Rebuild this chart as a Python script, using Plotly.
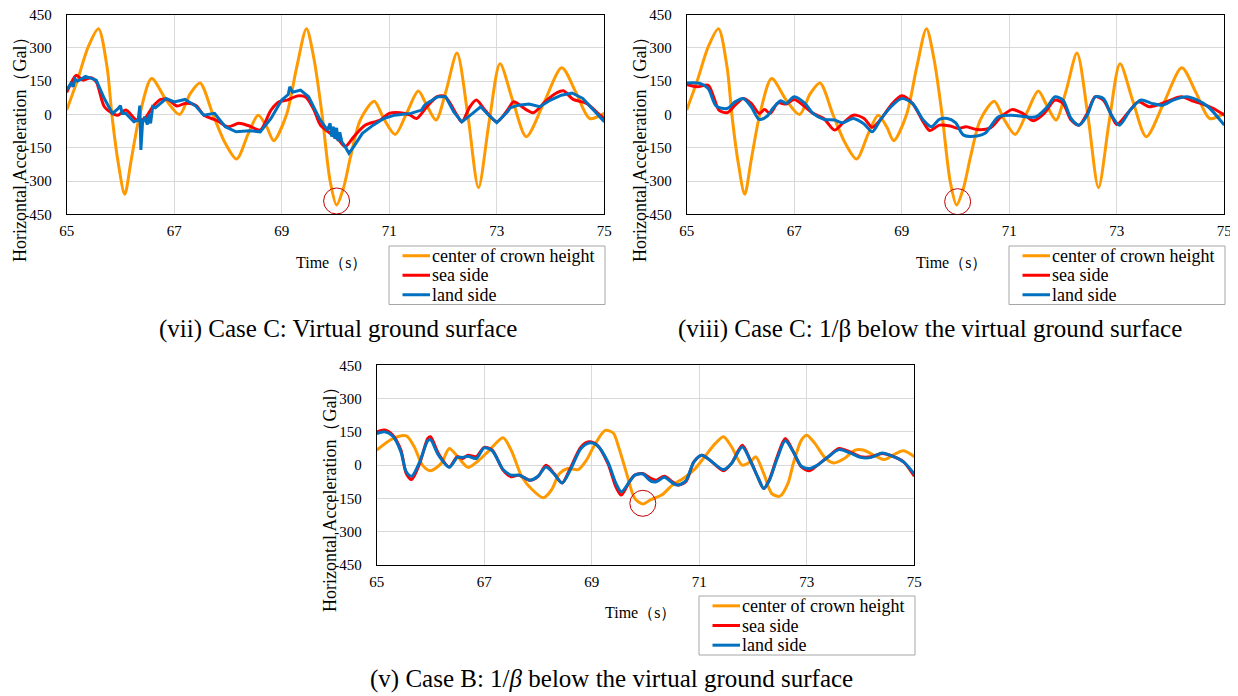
import plotly.graph_objects as go

W, H = 1238, 696
OFF = 8  # page body margin in the browser

# ---------------- data ----------------
# center of crown height, Case C (same in vii and viii)
t_crown_c = [65.0, 65.2, 65.4, 65.59, 65.75, 65.84, 65.95, 66.08, 66.2, 66.36, 66.58, 66.85, 67.1, 67.3,
             67.48, 67.72, 67.95, 68.16, 68.38, 68.56, 68.72, 68.85, 69.09, 69.28, 69.46, 69.6, 69.75,
             69.9, 70.02, 70.15, 70.28, 70.46, 70.72, 70.9, 71.11, 71.33, 71.54, 71.7, 71.87, 72.06,
             72.26, 72.46, 72.66, 72.86, 73.06, 73.3, 73.55, 73.88, 74.21, 74.47, 74.73, 75.0]
v_crown_c = [20, 155, 305, 387, 215, 0, -205, -360, -205, 0, 162, 65, 0, 95,
             142, 0, -130, -201, -85, -3, -55, -118, 0, 215, 387, 250, 0,
             -300, -408, -330, -190, -25, 60, -20, -90, 10, 106, 40, -25, 110,
             277, 0, -330, -30, 229, 60, -100, 55, 211, 100, -18, 5]

# (vii) sea side
t_sea_7 = [65.0, 65.1, 65.18, 65.3, 65.45, 65.55, 65.7, 65.85, 65.95, 66.1, 66.3, 66.45, 66.6, 66.75,
           66.9, 67.05, 67.2, 67.4, 67.55, 67.8, 68.0, 68.2, 68.4, 68.6, 68.8, 68.95, 69.1, 69.3,
           69.45, 69.6, 69.72, 69.9, 70.06, 70.18, 70.34, 70.55, 70.83, 71.0, 71.2, 71.39, 71.51,
           71.7, 71.89, 72.04, 72.26, 72.35, 72.5, 72.62, 72.78, 73.0, 73.22, 73.31, 73.56, 73.68,
           73.93, 74.11, 74.24, 74.42, 74.67, 74.92, 75.0]
v_sea_7 = [100, 150, 177, 155, 166, 147, 35, 5, -3, 20, -25, -18, 35, 68,
           65, 38, 50, 42, -3, -28, -55, -40, -52, -70, 20, 57, 65, 84,
           78, 20, -48, -85, -115, -145, -100, -48, -25, 5, 8, -3, -18,
           35, 80, 80, -3, -33, 35, 65, 20, -33, 27, 57, 20, 8,
           65, 97, 107, 68, 50, -3, -18]

# (vii) land side
t_land_7 = [65.0, 65.08, 65.12, 65.15, 65.2, 65.35, 65.55, 65.7, 65.85, 65.95, 66.0, 66.03, 66.1,
            66.25, 66.33, 66.36, 66.38, 66.41, 66.45, 66.5, 66.53, 66.56, 66.6, 66.65, 66.85, 67.0,
            67.2, 67.4, 67.55, 67.75, 67.95, 68.15, 68.4, 68.6, 68.8, 69.0, 69.12, 69.15, 69.2,
            69.35, 69.5, 69.7, 69.85, 69.9, 69.93, 69.96, 69.99, 70.02, 70.05, 70.08, 70.12,
            70.18, 70.25, 70.34, 70.5, 70.7, 70.9, 71.1, 71.4, 71.6, 71.65, 71.7, 71.9, 72.05,
            72.2, 72.35, 72.55, 72.7, 72.85, 73.0, 73.2, 73.25, 73.4, 73.6, 73.8, 74.0, 74.2,
            74.4, 74.6, 74.8, 75.0]
v_land_7 = [112, 140, 125, 160, 150, 172, 155, 72, 5, 25, 40, 5, 5,
            -33, -25, 40, -160, -40, -10, -45, 0, -40, 35, 30, 72, 57,
            68, 38, -3, 5, -55, -78, -73, -78, -18, 65, 90, 125, 100,
            110, 80, -18, -70, -40, -100, -55, -110, -60, -120, -80, -125,
            -145, -175, -145, -85, -48, -18, -3, 5, 20, 40, 50, 80, 80,
            12, -33, 5, 35, -3, -37, 12, 30, 42, 47, 35, 65, 87,
            97, 72, 20, -33]

# (viii) sea side
t_sea_8 = [65.0, 65.2, 65.4, 65.5, 65.6, 65.75, 65.9, 66.05, 66.2, 66.35, 66.45, 66.55, 66.7, 66.85,
           67.0, 67.2, 67.35, 67.55, 67.75, 67.9, 68.1, 68.3, 68.45, 68.6, 68.8, 69.0, 69.2, 69.4,
           69.52, 69.7, 69.9, 70.05, 70.2, 70.4, 70.65, 70.85, 71.05, 71.25, 71.45, 71.65, 71.85,
           72.0, 72.15, 72.3, 72.45, 72.6, 72.75, 72.9, 73.0, 73.2, 73.4, 73.6, 73.8, 74.0, 74.2,
           74.4, 74.6, 74.8, 75.0]
v_sea_8 = [135, 125, 132, 80, 20, 8, 42, 72, 50, 5, 22, 5, 52, 47,
           68, 35, 5, -18, -70, -40, -3, -18, -58, -25, 42, 84, 50, -33,
           -72, -48, -52, -63, -55, -68, -60, -10, 22, 5, -28, 5, 65,
           50, -25, -48, 5, 80, 65, -3, -45, 5, 57, 35, 47, 65, 80,
           62, 47, 27, -3]

# (viii) land side
t_land_8 = [65.0, 65.25, 65.4, 65.55, 65.75, 65.9, 66.05, 66.2, 66.35, 66.5, 66.6, 66.75, 66.85,
            67.0, 67.2, 67.35, 67.55, 67.75, 67.9, 68.1, 68.3, 68.45, 68.6, 68.8, 69.0, 69.2,
            69.4, 69.55, 69.7, 69.85, 70.0, 70.15, 70.4, 70.55, 70.8, 71.05, 71.3, 71.5, 71.7,
            71.85, 72.0, 72.15, 72.3, 72.45, 72.6, 72.75, 72.9, 73.05, 73.25, 73.45, 73.65,
            73.85, 74.05, 74.3, 74.5, 74.7, 75.0]
v_land_8 = [142, 140, 117, 38, 27, 57, 72, 35, -22, -7, 27, 62, 50,
            80, 50, 5, -22, -25, -37, -18, -43, -78, -25, 35, 72, 50,
            -25, -55, -22, -18, -37, -93, -97, -85, -10, -3, -10, -10, 32,
            80, 65, -18, -48, -3, 80, 72, -3, -48, 20, 65, 50,
            42, 65, 80, 65, 35, -48]

# (v) center of crown height, Case B
t_crown_b = [65.0, 65.3, 65.55, 65.7, 65.85, 66.0, 66.2, 66.35, 66.5, 66.7, 66.9, 67.1, 67.35, 67.5,
             67.7, 67.9, 68.1, 68.25, 68.4, 68.55, 68.75, 68.9, 69.05, 69.25, 69.4, 69.5, 69.65,
             69.8, 69.95, 70.1, 70.3, 70.5, 70.7, 70.9, 71.1, 71.3, 71.45, 71.6, 71.8, 71.95,
             72.05, 72.2, 72.35, 72.5, 72.65, 72.75, 72.9, 73.0, 73.15, 73.35, 73.5, 73.7, 73.9,
             74.05, 74.3, 74.45, 74.6, 74.8, 75.0]
v_crown_b = [68, 120, 132, 82, 0, -25, 8, 75, 40, -10, 22, 68, 123, 68,
             -52, -112, -147, -112, -38, -15, -20, 22, 90, 157, 145, 82, -38,
             -150, -175, -155, -135, -90, -60, -22, 38, 98, 128, 83, 0, 15,
             38, -38, -128, -140, -82, 8, 113, 135, 98, 30, 10, 30, 68,
             68, 38, 25, 45, 65, 38]

# (v) sea side
t_sea_5 = [65.0, 65.15, 65.3, 65.45, 65.55, 65.65, 65.8, 65.95, 66.0, 66.15, 66.35, 66.5, 66.6, 66.7,
           66.85, 67.0, 67.15, 67.35, 67.5, 67.65, 67.85, 68.0, 68.15, 68.3, 68.45, 68.6, 68.8,
           68.95, 69.1, 69.3, 69.45, 69.55, 69.7, 69.8, 69.95, 70.1, 70.2, 70.35, 70.5, 70.6,
           70.75, 70.9, 71.05, 71.2, 71.45, 71.6, 71.8, 71.95, 72.1, 72.2, 72.3, 72.45, 72.6,
           72.75, 72.9, 73.05, 73.2, 73.4, 73.6, 73.8, 74.0, 74.2, 74.4, 74.6, 74.8, 75.0]
v_sea_5 = [150, 158, 135, 68, -38, -65, 8, 120, 128, 52, -8, 38, 30, 45,
           38, 80, 68, -22, -52, -45, -68, -52, 0, -38, -80, -15, 82,
           105, 90, 8, -98, -135, -75, -45, -38, -60, -68, -50, -75, -90,
           -75, 15, 45, 22, -25, 8, 90, 22, -60, -105, -68, 38, 120,
           60, -8, -25, 0, 38, 75, 60, 38, 38, 52, 40, 15, -50]

# (v) land side
t_land_5 = t_sea_5
v_land_5 = [142, 150, 130, 60, -30, -50, 15, 110, 115, 45, -10, 35, 35, 40,
            30, 78, 65, -20, -45, -45, -68, -50, -8, -40, -80, -22, 75,
            100, 90, 15, -82, -120, -75, -45, -40, -72, -75, -55, -80, -90,
            -70, 15, 45, 22, -20, 8, 82, 20, -60, -105, -70, 30, 110,
            60, -5, -15, 0, 38, 70, 55, 35, 35, 55, 40, 15, -40]

x_ticks = [65, 67, 69, 71, 73, 75]
y_ticks = [450, 300, 150, 0, -150, -300, -450]
series_names = ["center of crown height", "sea side", "land side"]
colors = ["#FF9900", "#FF0000", "#0070C0"]

captions = ["(vii) Case C: Virtual ground surface",
            "(viii) Case C: 1/β below the virtual ground surface",
            "(v) Case B: 1/<i>β</i> below the virtual ground surface"]
x_title = "Time（s）"
y_title = "Horizontal Acceleration（Gal）"

# peak markers (time, value)
circle_pts = [(70.02, -390), (70.04, -393), (69.95, -172)]

# ---------------- layout helpers ----------------
def px(x):
    return (x - OFF) / W

def py(y):
    return 1 - (y - OFF) / H

FONT = "Liberation Serif, Times New Roman, serif"

panels = [
    dict(x0=66.7, x1=604.3, y0=14.7, y1=214.3,
         data=[(t_crown_c, v_crown_c), (t_sea_7, v_sea_7), (t_land_7, v_land_7)],
         legend=(389, 246, 605, 304.5), xtitle=(331, 262), ytitle=(20, 145), caption=(338, 329)),
    dict(x0=686.7, x1=1224.3, y0=14.7, y1=214.3,
         data=[(t_crown_c, v_crown_c), (t_sea_8, v_sea_8), (t_land_8, v_land_8)],
         legend=(1009, 246, 1225, 304.5), xtitle=(951, 262), ytitle=(640, 145), caption=(930, 329)),
    dict(x0=376.7, x1=914.3, y0=365.3, y1=565.0,
         data=[(t_crown_b, v_crown_b), (t_sea_5, v_sea_5), (t_land_5, v_land_5)],
         legend=(699, 596, 915, 655), xtitle=(640, 612), ytitle=(330, 495), caption=(611, 679)),
]

fig = go.Figure()
layout = dict(width=W, height=H, margin=dict(l=0, r=0, t=0, b=0, autoexpand=False),
              paper_bgcolor="white", plot_bgcolor="white", showlegend=False)
annotations = []
shapes = []

for i, p in enumerate(panels):
    sfx = "" if i == 0 else str(i + 1)
    xa, ya = "x" + sfx, "y" + sfx
    for j, (tt, vv) in enumerate(p["data"]):
        shape = "linear" if (i == 0 and j == 2) else "spline"
        fig.add_trace(go.Scatter(
            x=tt, y=vv, mode="lines", name=series_names[j],
            line=dict(color=colors[j], width=3, shape=shape, smoothing=0.8),
            xaxis=xa, yaxis=ya))
    layout["xaxis" + sfx] = dict(
        domain=[px(p["x0"]), px(p["x1"])], anchor=ya, range=[65, 75],
        tickvals=x_ticks, ticktext=[str(v) for v in x_ticks], automargin=False,
        showgrid=True, gridcolor="#d9d9d9", gridwidth=1,
        showline=True, linecolor="black", linewidth=1, mirror=True,
        ticks="", zeroline=False, ticklabelstandoff=3, ticklabeloverflow="allow",
        tickfont=dict(family=FONT, size=15, color="black"))
    layout["yaxis" + sfx] = dict(
        domain=[py(p["y1"]), py(p["y0"])], anchor=xa, range=[-450, 450],
        tickvals=y_ticks, ticktext=[str(v) for v in y_ticks], automargin=False,
        showgrid=True, gridcolor="#d9d9d9", gridwidth=1,
        showline=True, linecolor="black", linewidth=1, mirror=True,
        ticks="", zeroline=False, ticklabelstandoff=11, ticklabeloverflow="allow",
        tickfont=dict(family=FONT, size=15, color="black"))

    # legend box drawn in page coordinates
    lx0, ly0, lx1, ly1 = p["legend"]
    shapes.append(dict(type="rect", xref="paper", yref="paper",
                       x0=px(lx0), x1=px(lx1), y0=py(ly1), y1=py(ly0),
                       line=dict(color="#a6a6a6", width=1), fillcolor="white", layer="above"))
    row_h = (ly1 - ly0) / 3.0
    for j in range(3):
        yy = ly0 + row_h * (j + 0.5)
        shapes.append(dict(type="line", xref="paper", yref="paper",
                           x0=px(lx0 + 13.5), x1=px(lx0 + 41), y0=py(yy), y1=py(yy),
                           line=dict(color=colors[j], width=3), layer="above"))
        annotations.append(dict(text=series_names[j], x=px(lx0 + 41), y=py(yy),
                                xref="paper", yref="paper", xanchor="left", yanchor="middle",
                                showarrow=False,
                                font=dict(family=FONT, size=18, color="black")))

    tx, ty = p["xtitle"]
    annotations.append(dict(text=x_title, x=px(tx), y=py(ty), xref="paper", yref="paper",
                            xanchor="center", yanchor="middle",
                            showarrow=False, font=dict(family=FONT, size=16, color="black")))
    yx, yy = p["ytitle"]
    annotations.append(dict(text=y_title, x=px(yx), y=py(yy), xref="paper", yref="paper",
                            xanchor="center", yanchor="middle",
                            showarrow=False, textangle=-90,
                            font=dict(family=FONT, size=18, color="black")))
    cx, cy = p["caption"]
    annotations.append(dict(text=captions[i], x=px(cx), y=py(cy), xref="paper", yref="paper",
                            xanchor="center", yanchor="middle",
                            showarrow=False, font=dict(family=FONT, size=25, color="black")))
    ct, cv = circle_pts[i]
    shapes.append(dict(type="circle", xref=xa, yref=ya, xsizemode="pixel", ysizemode="pixel",
                       xanchor=ct, yanchor=cv, x0=-13, x1=13, y0=-13, y1=13,
                       line=dict(color="#C00000", width=1)))

layout["annotations"] = annotations
layout["shapes"] = shapes
fig.update_layout(**layout)
fig.write_html("out.html")
